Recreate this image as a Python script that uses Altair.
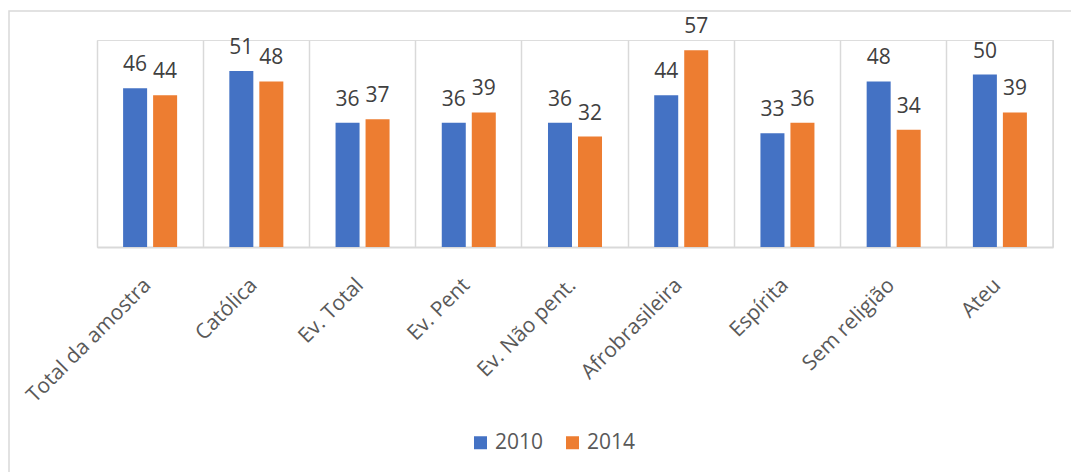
import altair as alt
import pandas as pd

categories = ["Total da amostra", "Católica", "Ev. Total", "Ev. Pent", "Ev. Não pent.",
              "Afrobrasileira", "Espírita", "Sem religião", "Ateu"]
series = ["2010", "2014"]
values_2010 = [46, 51, 36, 36, 36, 44, 33, 48, 50]
values_2014 = [44, 48, 37, 39, 32, 57, 36, 34, 39]
colors = ["#4472C4", "#ED7D31"]

rows = []
for c, a, b in zip(categories, values_2010, values_2014):
    rows.append({"cat": c, "ano": "2010", "v": a})
    rows.append({"cat": c, "ano": "2014", "v": b})
df = pd.DataFrame(rows)

W, H = 956, 207
FONT = "Open Sans"

x_enc = alt.X("cat:N", sort=categories, title=None,
              scale=alt.Scale(paddingInner=0, paddingOuter=0),
              axis=alt.Axis(labelAngle=-45, labelAlign="right", labelBaseline="top",
                            labelFontSize=21, labelColor="#595959", labelFont=FONT,
                            labelPadding=27, ticks=False, tickSize=0,
                            domainColor="#D9D9D9", domainWidth=2,
                            grid=True, gridColor="#D9D9D9", gridWidth=1.5,
                            bandPosition=0, labelOffset=-10))
xo_enc = alt.XOffset("ano:N", sort=series,
                     scale=alt.Scale(paddingInner=0.2, paddingOuter=0.87))
y_enc = alt.Y("v:Q", axis=None, scale=alt.Scale(domain=[0, 60], nice=False, zero=True))

base = alt.Chart(df)

bars = base.mark_bar().encode(
    x=x_enc, xOffset=xo_enc, y=y_enc,
    color=alt.Color("ano:N", sort=series, scale=alt.Scale(domain=series, range=colors),
                    legend=alt.Legend(title=None, orient="none", direction="horizontal",
                                      legendX=373, legendY=392, symbolType="square",
                                      symbolSize=169, symbolStrokeWidth=0,
                                      labelFontSize=21, labelColor="#595959",
                                      labelFont=FONT, labelOffset=4, columnPadding=18,
                                      padding=0))
)

labels = base.mark_text(baseline="alphabetic", dy=-17, fontSize=21, font=FONT,
                        color="#404040").encode(
    x=alt.X("cat:N", sort=categories), xOffset=xo_enc, y=y_enc, text="v:Q"
)

deco = pd.DataFrame({"k": [0]})
right_grid = alt.Chart(deco).mark_rule(color="#D9D9D9", strokeWidth=1.5).encode(
    x=alt.value(W), y=alt.value(0), y2=alt.value(H)
)
frame = alt.Chart(deco).mark_rect(fill=None, stroke="#D9D9D9", strokeWidth=1.5).encode(
    x=alt.value(-88), x2=alt.value(W + 40), y=alt.value(-29), y2=alt.value(H + 250)
)

chart = alt.layer(frame, right_grid, bars, labels).properties(
    width=W, height=H,
    autosize=alt.AutoSizeParams(type="none"),
    padding={"left": 97, "top": 40, "right": 18, "bottom": 225},
).configure_view(stroke=None).configure(font=FONT)

chart.save("out.html", embed_options={"renderer": "svg", "actions": False})
